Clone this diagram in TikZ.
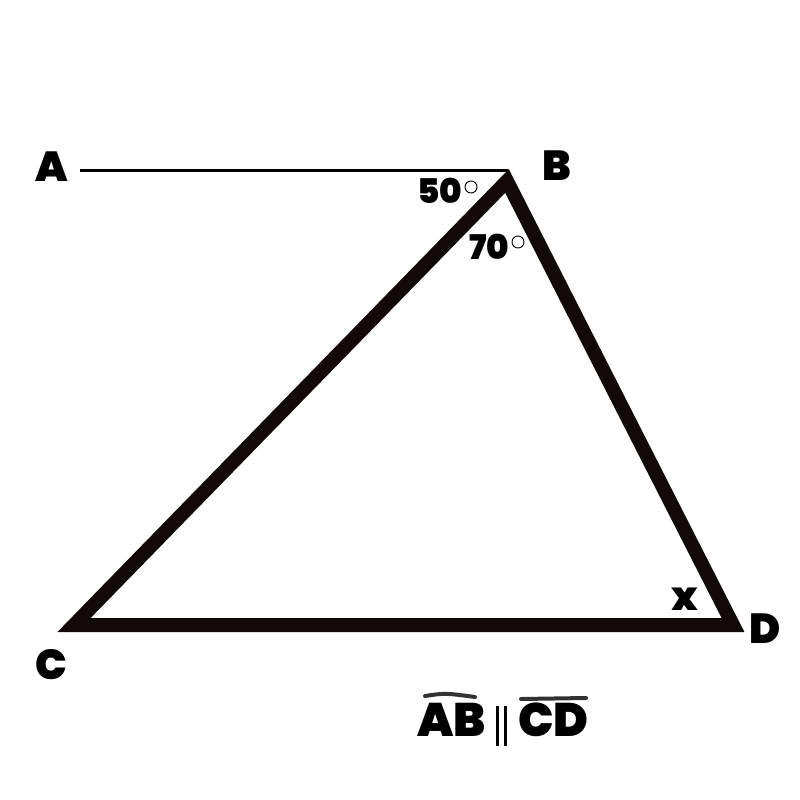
\documentclass[tikz,border=0pt]{standalone}
\usepackage{fontspec}
\setmainfont{Poppins Black}
\begin{document}
\begin{tikzpicture}[x=1pt,y=-1pt,
  lbl/.style={inner sep=0pt,font=\fontsize{42}{42}\selectfont},
  blbl/.style={inner sep=0pt,font=\fontsize{47}{47}\selectfont},
  ang/.style={inner sep=0pt,font=\fontsize{34}{34}\selectfont},
  deg/.style={draw,circle,minimum size=12pt,inner sep=0pt,line width=0.9pt},
  tri/.style={draw={rgb,255:red,18;green,10;blue,8},line width=14pt,miter limit=10,line join=miter},
  ovl/.style={draw={rgb,255:red,50;green,50;blue,50},line width=4pt,line cap=round}]
\useasboundingbox (0,0) rectangle (800,800);
\coordinate (Bv) at (507,181);
\coordinate (Cv) at (74,625);
\coordinate (Dv) at (733,625);
\coordinate (Ae) at (80,170);
\coordinate (Be) at (508,170);
\draw[line width=3pt] (Ae) -- (Be);
\draw[tri] (Cv) -- (Bv) -- (Dv) -- cycle;
\node[lbl] (A) at (52,167) {A};
\node[lbl] (B) at (557,166) {B};
\node[lbl] (C) at (51,665) {C};
\node[lbl] (D) at (765,629) {D};
\node[ang] (a50) at (440,191) {50};
\node[deg] (d50) at (471,187) {};
\node[ang] (a70) at (489,247) {70};
\node[deg] (d70) at (518,242) {};
\node[ang,font=\fontsize{40}{40}\selectfont] (x) at (685,599) {x};
\node[blbl,anchor=east] (AB) at (486,720) {AB};
\node[blbl,anchor=west] (CD) at (518,720) {CD};
\coordinate (p1t) at (497,706);
\coordinate (p1b) at (497,746);
\coordinate (p2t) at (505,706);
\coordinate (p2b) at (505,746);
\draw[line width=3pt] (p1t) -- (p1b) (p2t) -- (p2b);
\coordinate (o1a) at (425,696);
\coordinate (o1b) at (475,697);
\coordinate (o2a) at (521,699);
\coordinate (o2b) at (586,698);
\draw[ovl] (o1a) .. controls (445,693) .. (o1b);
\draw[ovl] (o2a) -- (o2b);
\end{tikzpicture}
\end{document}
